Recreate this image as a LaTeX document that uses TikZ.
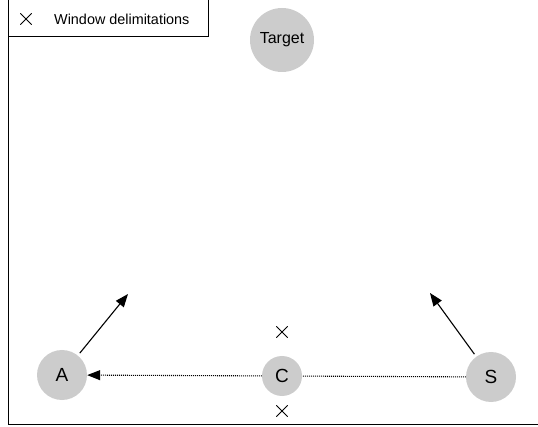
\documentclass[tikz,border=0pt]{standalone}
\usepackage{fontspec}
\setmainfont{Liberation Sans}
\usetikzlibrary{arrows.meta,shapes.misc}

\begin{document}
\begin{tikzpicture}[x=1pt,y=-1pt,
	agent/.style={circle,fill=black!20,inner sep=0pt,font=\fontsize{19}{22}\selectfont},
	winmark/.style={cross out,draw,minimum size=10.5pt,inner sep=0pt,line width=0.8pt},
	move/.style={-{Triangle[length=13pt,width=10pt]},line width=1.1pt},
	link/.style={dash pattern=on 1pt off 1pt,line width=1.1pt}]
	\clip (0,0) rectangle (538,427);
	\draw[line width=1pt] (8,0) -- (8,424) -- (538,424);
	% legend
	\node[draw,line width=0.8pt,minimum width=200pt,minimum height=40pt,inner sep=0pt,anchor=south west] (legend) at (8,37) {};
	\node[winmark] (legmark) at (26,19) {};
	\node[anchor=west,inner sep=0pt,font=\fontsize{14.4}{17}\selectfont] (legtext) at (54,19) {Window delimitations};
	% agents
	\node[agent,minimum size=64pt,font=\fontsize{16}{19}\selectfont] (T) at (282,40) {Target};
	\node[agent,minimum size=50pt] (A) at (62,375) {A};
	\node[agent,minimum size=40pt] (C) at (282,376) {C};
	\node[agent,minimum size=50pt] (S) at (491,377) {S};
	\node[winmark] (w1) at (282,332) {};
	\node[winmark] (w2) at (282,411) {};
	\coordinate (a1) at (128,294);
	\coordinate (s1) at (430,293);
	\draw[move,shorten <=3pt] (A) -- (a1);
	\draw[move,shorten <=3pt] (S) -- (s1);
	\draw[link,-{Triangle[length=13pt,width=10pt]}] (C) -- (A);
	\draw[link] (S) -- (C);
\end{tikzpicture}
\end{document}
